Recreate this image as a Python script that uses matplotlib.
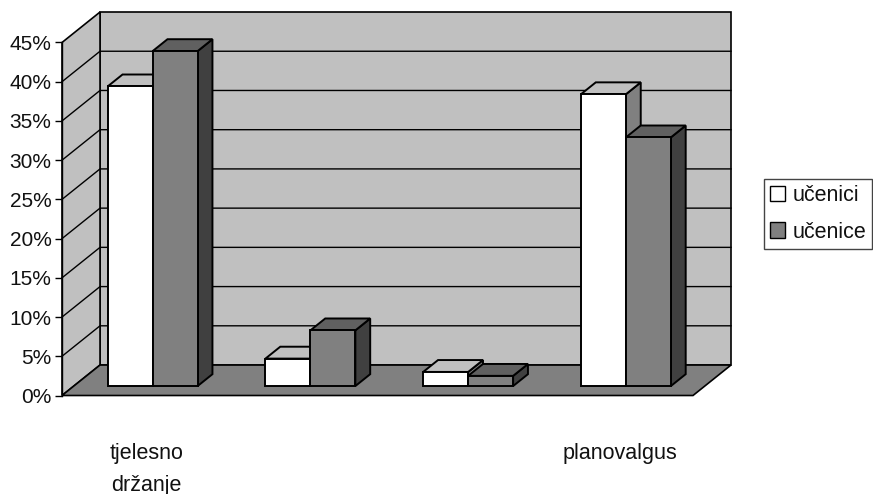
import matplotlib
matplotlib.use("Agg")
import matplotlib.pyplot as plt
from matplotlib.patches import Polygon, Patch

plt.rcParams['font.family'] = ['Liberation Sans', 'DejaVu Sans']

categories = ["tjelesno\ndržanje", "", "", "planovalgus"]
ucenici = [38.2, 3.5, 1.8, 37.2]
ucenice = [42.7, 7.1, 1.3, 31.7]
yticks = [0, 5, 10, 15, 20, 25, 30, 35, 40, 45]

WALL = '#c0c0c0'
FLOOR = '#808080'
WHITE_FACES = ('#ffffff', '#c0c0c0', '#808080')
GREY_FACES = ('#808080', '#606060', '#404040')

# oblique depth: shift of the back plane in x (categories) and y (percent)
DEPTH_X = 0.241
DEPTH_Y = 3.885
BAR_W = 0.285
D0, D1 = 0.31, 0.70


def proj(x, y, d=0.0):
    return (x + d * DEPTH_X, y + d * DEPTH_Y)


fig = plt.figure(figsize=(8.73, 4.94), dpi=100)
ax = fig.add_axes([62 / 873, (494 - 395.5) / 494, 631 / 873, 353 / 494])
ax.set_xlim(0, 4)
ax.set_ylim(0, 45)
ax.patch.set_visible(False)
for s in ['top', 'right', 'bottom']:
    ax.spines[s].set_visible(False)
ax.spines['left'].set_linewidth(1.0)

ymax = yticks[-1]
n = len(categories)


def face(points, color, lw=1.2, z=2):
    ax.add_patch(Polygon(points, closed=True, facecolor=color, edgecolor='black',
                         linewidth=lw, clip_on=False, zorder=z, joinstyle='miter'))


# walls and floor
face([proj(0, 0, 1), proj(n, 0, 1), proj(n, ymax, 1), proj(0, ymax, 1)], WALL)
face([proj(0, 0), proj(0, 0, 1), proj(0, ymax, 1), proj(0, ymax)], WALL)
face([proj(0, 0), proj(n, 0), proj(n, 0, 1), proj(0, 0, 1)], FLOOR)

# gridlines run along the side wall and across the back wall
for t in yticks[1:-1]:
    xs, ys = zip(proj(0, t), proj(0, t, 1), proj(n, t, 1))
    ax.plot(xs, ys, color='black', lw=1.0, clip_on=False, zorder=2)


def bar3d(x, v, faces):
    front, top, side = faces
    x2 = x + BAR_W
    face([proj(x2, 0, D0), proj(x2, 0, D1), proj(x2, v, D1), proj(x2, v, D0)], side, lw=1.4, z=3)
    face([proj(x, v, D0), proj(x2, v, D0), proj(x2, v, D1), proj(x, v, D1)], top, lw=1.4, z=3)
    face([proj(x, 0, D0), proj(x2, 0, D0), proj(x2, v, D0), proj(x, v, D0)], front, lw=1.4, z=3)


for i in range(n):
    bar3d(i + 0.5 - BAR_W, ucenici[i], WHITE_FACES)
    bar3d(i + 0.5, ucenice[i], GREY_FACES)

ax.set_yticks(yticks)
ax.set_yticklabels([f"{t}%" for t in yticks], fontsize=15, color='#111111')
ax.tick_params(axis='y', length=5, width=1.0, pad=2.5)

# category labels sit well below the floor
ax.set_xticks([])
for i, label in enumerate(categories):
    if label:
        ax.text(i + 0.535, -6.05, label, ha='center', va='top', fontsize=15.5, linespacing=1.66,
                color='#111111', clip_on=False)

handles = [Patch(facecolor='white', edgecolor='black', label='učenici'),
           Patch(facecolor=FLOOR, edgecolor='black', label='učenice')]
leg = fig.legend(handles=handles, loc='upper left', bbox_to_anchor=(764 / 873, 1 - 179 / 494),
                 fontsize=15.5, frameon=True, fancybox=False, edgecolor='#444444', framealpha=1,
                 handlelength=0.7, handleheight=0.7, handletextpad=0.35, labelspacing=0.72,
                 borderpad=0.28, borderaxespad=0, labelcolor='#111111')
leg.get_frame().set_linewidth(1.0)

fig.savefig('out.png', dpi=100)
